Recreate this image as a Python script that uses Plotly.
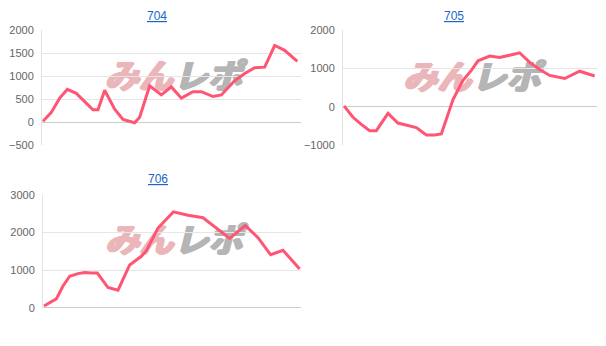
import plotly.graph_objects as go

# machine numbers
titles = ["704", "705", "706"]

# slump graphs: x = games played, y = coin difference
games_704 = [0, 250, 500, 730, 1000, 1250, 1500, 1650, 1850, 2150, 2400, 2750, 2900, 3200,
             3550, 3850, 4150, 4500, 4750, 5100, 5350, 5750, 6050, 6350, 6650, 6950, 7250, 7630]
diff_704 = [15, 210, 520, 710, 625, 450, 265, 265, 690, 280, 55, -15, 105, 790,
            590, 765, 520, 660, 660, 555, 590, 900, 1055, 1180, 1195, 1665, 1560, 1320]

games_705 = [0, 270, 520, 770, 970, 1320, 1620, 1920, 2170, 2470, 2720, 2920, 3270, 3570,
             3820, 4020, 4370, 4670, 4970, 5270, 5570, 5870, 6170, 6620, 7070, 7520]
diff_705 = [25, -270, -455, -620, -620, -170, -420, -480, -540, -730, -730, -705, 190, 695,
            950, 1200, 1325, 1285, 1345, 1410, 1160, 975, 820, 740, 930, 805]

games_706 = [0, 170, 370, 570, 770, 1020, 1220, 1420, 1600, 1920, 2220, 2570, 2920, 3070,
             3420, 3880, 4320, 4770, 5170, 5570, 6040, 6420, 6800, 7170, 7670]
diff_706 = [50, 140, 240, 580, 840, 910, 940, 925, 925, 540, 470, 1140, 1370, 1520,
            2120, 2550, 2460, 2395, 2120, 1845, 2185, 1865, 1410, 1530, 1030]

y_ranges = [[-500, 2000], [-1000, 2000], [0, 3000]]
x_ranges = [[-30, 7740], [-30, 7590], [-30, 7710]]
dticks = [500, 1000, 1000]

W, H = 606, 346
# plot areas in pixels (left, right, top, bottom)
areas = [(42, 301, 25, 144), (343, 597, 25, 144.3), (43, 301, 195.7, 312.7)]
title_pos = [(157, 10), (454, 10), (158, 179)]

LINE = "#ff5573"
PINK = "#ebb6ba"
GREY = "#b5b5b5"
fig = go.Figure()
series = [(games_704, diff_704), (games_705, diff_705), (games_706, diff_706)]


def bold_shadow(c):
    return (f"1px 0px 0px {c}, 0px 1px 0px {c}, 1px 1px 0px {c}, "
            f"-1px 0px 0px {c}, 2px 0px 0px {c}")


layout = dict(width=W, height=H, margin=dict(l=0, r=0, t=0, b=0),
              paper_bgcolor="white", plot_bgcolor="white", showlegend=False,
              font=dict(family="Arial, Liberation Sans, sans-serif", size=11, color="#666"))
annotations = []
shapes = []
for i, ((gx, gy), area) in enumerate(zip(series, areas)):
    sfx = "" if i == 0 else str(i + 1)
    l, r, t, b = area
    fig.add_trace(go.Scatter(x=gx, y=gy, mode="lines", line=dict(color=LINE, width=3),
                             xaxis="x" + sfx, yaxis="y" + sfx, hoverinfo="skip"))
    layout["xaxis" + sfx] = dict(domain=[l / W, r / W], range=x_ranges[i], anchor="y" + sfx,
                                 showticklabels=False, showgrid=False, zeroline=False,
                                 showline=False, fixedrange=True)
    layout["yaxis" + sfx] = dict(domain=[1 - b / H, 1 - t / H], range=y_ranges[i],
                                 anchor="x" + sfx, dtick=dticks[i], tick0=0,
                                 showgrid=True, gridcolor="#e6e6e6", gridwidth=1,
                                 zeroline=True, zerolinecolor="#cccccc", zerolinewidth=1,
                                 showline=True, linecolor="#e3e3e3", linewidth=1,
                                 ticks="", ticklabelstandoff=5,
                                 tickfont=dict(size=11, color="#666"), fixedrange=True)
    tx, ty = title_pos[i]
    annotations.append(dict(text="<u>" + titles[i] + "</u>", xref="paper", yref="paper",
                            x=tx / W, y=1 - ty / H, xanchor="center", yanchor="middle",
                            showarrow=False, font=dict(size=12, color="#1a66cc")))
    # watermark behind the line
    cx = (l + r) / 2
    cy = (t + b) / 2 - 9
    shapes.append(dict(type="rect", xref="paper", yref="paper", layer="below",
                       x0=(cx - 90) / W, x1=(cx + 4) / W, y0=1 - (cy + 14) / H, y1=1 - (cy - 14) / H,
                       line=dict(width=0), fillcolor="rgba(0,0,0,0)",
                       label=dict(text="みん", textposition="middle right", padding=0,
                                  font=dict(family="Noto Sans CJK JP", size=34, weight="bold",
                                            style="italic", color=PINK,
                                            shadow=bold_shadow(PINK)))))
    shapes.append(dict(type="rect", xref="paper", yref="paper", layer="below",
                       x0=(cx - 1) / W, x1=(cx + 90) / W, y0=1 - (cy + 14) / H, y1=1 - (cy - 14) / H,
                       line=dict(width=0), fillcolor="rgba(0,0,0,0)",
                       label=dict(text="レポ", textposition="middle left", padding=0,
                                  font=dict(family="Noto Sans CJK JP", size=34, weight="bold",
                                            style="italic", color=GREY,
                                            shadow=bold_shadow(GREY)))))

layout["annotations"] = annotations
layout["shapes"] = shapes
fig.update_layout(**layout)
fig.write_html("out.html", config={"displayModeBar": False})
